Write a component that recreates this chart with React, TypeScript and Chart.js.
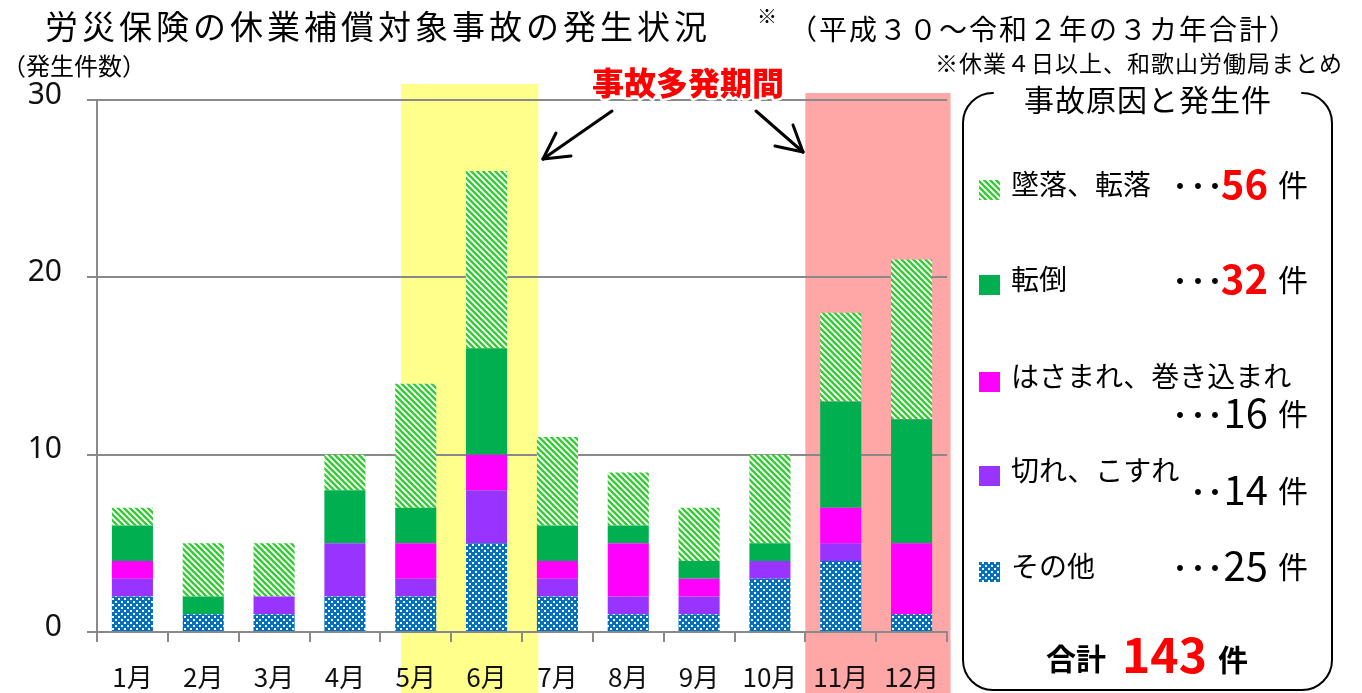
import React, { useEffect, useRef } from 'react';
import { Chart, registerables } from 'chart.js';

Chart.register(...registerables);

// ---- data ----
const months = ['1月', '2月', '3月', '4月', '5月', '6月', '7月', '8月', '9月', '10月', '11月', '12月'];
const sonota = [2, 1, 1, 2, 2, 5, 2, 1, 1, 3, 4, 1];       // その他
const kire = [1, 0, 1, 3, 1, 3, 1, 1, 1, 1, 1, 0];         // 切れ、こすれ
const hasamare = [1, 0, 0, 0, 2, 2, 1, 3, 1, 0, 2, 4];     // はさまれ、巻き込まれ
const tentou = [2, 1, 0, 3, 2, 6, 2, 1, 1, 1, 6, 7];       // 転倒
const tsuiraku = [1, 3, 3, 2, 7, 10, 5, 3, 3, 5, 5, 9];    // 墜落、転落
const yTicks = [0, 10, 20, 30];

const sum = (a: number[]) => a.reduce((s, v) => s + v, 0);

const JP = '"Noto Sans CJK JP", "Noto Sans", sans-serif';
const GRID = '#898989';

function makeStripe(): CanvasPattern {
  const c = document.createElement('canvas');
  c.width = 6; c.height = 6;
  const g = c.getContext('2d')!;
  g.fillStyle = '#ffffff';
  g.fillRect(0, 0, 6, 6);
  g.strokeStyle = '#33CC33';
  g.lineWidth = 2.4;
  for (const k of [-6, 0, 6]) {
    g.beginPath();
    g.moveTo(k - 1, -1);
    g.lineTo(k + 7, 7);
    g.stroke();
  }
  return g.createPattern(c, 'repeat')!;
}

function makeDots(): CanvasPattern {
  const c = document.createElement('canvas');
  c.width = 6; c.height = 6;
  const g = c.getContext('2d')!;
  g.fillStyle = '#0070C0';
  g.fillRect(0, 0, 6, 6);
  g.fillStyle = '#ffffff';
  g.fillRect(1, 1, 2, 2);
  g.fillRect(4, 4, 2, 2);
  return g.createPattern(c, 'repeat')!;
}

export default function App() {
  const ref = useRef<HTMLCanvasElement>(null);

  useEffect(() => {
    const canvas = ref.current!;
    const stripe = makeStripe();
    const dots = makeDots();

    const bandsPlugin = {
      id: 'bands',
      beforeDraw(chart: any) {
        const ctx = chart.ctx;
        const xs = chart.scales.x;
        const ca = chart.chartArea;
        const w = (xs.right - xs.left) / months.length;
        ctx.save();
        ctx.fillStyle = '#ffffff';
        ctx.fillRect(0, 0, chart.width, chart.height);
        // yellow band (5月-6月)
        const yl = xs.getPixelForValue(4) - 0.21 * w;
        const yr = xs.getPixelForValue(5) + 0.73 * w;
        ctx.fillStyle = '#FFFF8C';
        ctx.fillRect(yl, ca.top - 16, yr - yl, chart.height - (ca.top - 16));
        // pink band (11月-12月)
        const pl = xs.getPixelForValue(10) - 0.5 * w;
        const pr = xs.getPixelForValue(11) + 0.55 * w;
        ctx.fillStyle = '#FFA6A6';
        ctx.fillRect(pl, ca.top - 7, pr - pl, chart.height - (ca.top - 7));
        ctx.restore();
      },
    };

    const annoPlugin = {
      id: 'anno',
      afterDraw(chart: any) {
        const ctx: CanvasRenderingContext2D = chart.ctx;
        ctx.save();
        const setLS = (v: string) => { (ctx as any).letterSpacing = v; };
        ctx.textBaseline = 'middle';
        ctx.fillStyle = '#000';

        // titles
        setLS('4px');
        ctx.textAlign = 'left';
        ctx.font = `33px ${JP}`;
        ctx.fillText('労災保険の休業補償対象事故の発生状況', 45, 26);
        setLS('0px');
        ctx.font = `20px ${JP}`;
        ctx.fillText('※', 757, 16);
        setLS('2px');
        ctx.font = `28px ${JP}`;
        ctx.fillText('（平成３０～令和２年の３カ年合計）', 789, 29);
        setLS('0px');
        ctx.font = `24px ${JP}`;
        ctx.fillText('（発生件数）', 2, 66);
        setLS('1px');
        ctx.font = `23px ${JP}`;
        ctx.fillText('※休業４日以上、和歌山労働局まとめ', 935, 63);
        setLS('0px');

        // 事故多発期間
        ctx.font = `900 32px ${JP}`;
        ctx.textAlign = 'center';
        ctx.lineJoin = 'round';
        ctx.strokeStyle = '#fff';
        ctx.lineWidth = 5;
        ctx.strokeText('事故多発期間', 688, 83);
        ctx.fillStyle = '#FF0000';
        ctx.fillText('事故多発期間', 688, 83);

        // arrows
        ctx.strokeStyle = '#000';
        ctx.lineWidth = 3;
        ctx.lineCap = 'round';
        const seg = (a: number, b: number, c: number, d: number) => {
          ctx.beginPath(); ctx.moveTo(a, b); ctx.lineTo(c, d); ctx.stroke();
        };
        seg(612, 111, 543, 159); seg(543, 159, 556, 133); seg(543, 159, 571, 156);
        seg(756, 111, 803, 152); seg(803, 152, 793, 125); seg(803, 152, 775, 146);

        // legend box
        const bx = 963, by = 93, bw = 369, bh = 597, r = 30;
        ctx.lineWidth = 2;
        ctx.beginPath();
        ctx.moveTo(bx + r, by);
        ctx.arcTo(bx, by, bx, by + r, r);
        ctx.lineTo(bx, by + bh - r);
        ctx.arcTo(bx, by + bh, bx + r, by + bh, r);
        ctx.lineTo(bx + bw - r, by + bh);
        ctx.arcTo(bx + bw, by + bh, bx + bw, by + bh - r, r);
        ctx.lineTo(bx + bw, by + r);
        ctx.arcTo(bx + bw, by, bx + bw - r, by, r);
        ctx.stroke();

        ctx.fillStyle = '#000';
        ctx.textAlign = 'center';
        setLS('1px');
        ctx.font = `30px ${JP}`;
        ctx.fillText('事故原因と発生件', 1148, 100);
        setLS('0px');

        const items = [
          { label: '墜落、転落', fill: stripe, total: sum(tsuiraku), red: true, ly: 184, ny: 184, nd: 3 },
          { label: '転倒', fill: '#00B050', total: sum(tentou), red: true, ly: 279, ny: 279, nd: 3 },
          { label: 'はさまれ、巻き込まれ', fill: '#FF00FF', total: sum(hasamare), red: false, ly: 376, ny: 413, nd: 3 },
          { label: '切れ、こすれ', fill: '#9933FF', total: sum(kire), red: false, ly: 470, ny: 490, nd: 2 },
          { label: 'その他', fill: dots, total: sum(sonota), red: false, ly: 566, ny: 566, nd: 3 },
        ];
        const dotX = [1180, 1198, 1215];
        for (const it of items) {
          ctx.fillStyle = it.fill as any;
          ctx.fillRect(979, it.ly + 6 - 10, 21, 20);
          ctx.fillStyle = '#000';
          ctx.textAlign = 'left';
          ctx.font = `28px ${JP}`;
          ctx.fillText(it.label, 1011, it.ly);
          ctx.textAlign = 'center';
          const dx = dotX.slice(3 - it.nd);
          for (const x of dx) ctx.fillText('・', x, it.ny + 2);
          ctx.textAlign = 'right';
          ctx.font = `${it.red ? 'bold ' : ''}40px ${JP}`;
          ctx.fillStyle = it.red ? '#FF0000' : '#000';
          ctx.fillText(String(it.total), 1268, it.ny);
          ctx.fillStyle = '#000';
          ctx.textAlign = 'left';
          ctx.font = `30px ${JP}`;
          ctx.fillText('件', 1278, it.ny + 1);
        }
        const grand = sum(tsuiraku) + sum(tentou) + sum(hasamare) + sum(kire) + sum(sonota);
        ctx.textAlign = 'left';
        ctx.font = `bold 30px ${JP}`;
        ctx.fillText('合計', 1046, 659);
        ctx.font = `bold 48px ${JP}`;
        ctx.fillStyle = '#FF0000';
        ctx.fillText(String(grand), 1122, 655);
        ctx.fillStyle = '#000';
        ctx.font = `bold 30px ${JP}`;
        ctx.fillText('件', 1218, 660);
        ctx.restore();
      },
    };

    const chart = new Chart(canvas, {
      type: 'bar',
      data: {
        labels: months,
        datasets: [
          { label: 'その他', data: sonota, backgroundColor: dots },
          { label: '切れ、こすれ', data: kire, backgroundColor: '#9933FF' },
          { label: 'はさまれ、巻き込まれ', data: hasamare, backgroundColor: '#FF00FF' },
          { label: '転倒', data: tentou, backgroundColor: '#00B050' },
          { label: '墜落、転落', data: tsuiraku, backgroundColor: stripe },
        ] as any,
      },
      options: {
        responsive: false,
        animation: false,
        devicePixelRatio: 1,
        layout: { padding: { left: 0, top: 100, right: 415, bottom: 0 } },
        datasets: { bar: { barPercentage: 0.58, categoryPercentage: 1, borderWidth: 0 } },
        plugins: { legend: { display: false }, tooltip: { enabled: false }, title: { display: false } },
        scales: {
          x: {
            stacked: true,
            afterFit: (s: any) => { s.height = 61; },
            grid: { offset: true, drawOnChartArea: false, drawTicks: true, tickLength: 10, color: GRID, lineWidth: 2 },
            border: { display: true, color: GRID, width: 2 },
            ticks: { color: '#111', font: { family: JP, size: 26 }, padding: 20, maxRotation: 0, autoSkip: false },
          },
          y: {
            stacked: true,
            min: 0,
            max: 30,
            afterFit: (s: any) => { s.width = 97; },
            afterBuildTicks: (s: any) => { s.ticks = yTicks.map((v) => ({ value: v })); },
            grid: { color: GRID, lineWidth: 2, drawTicks: true, tickLength: 10 },
            border: { display: true, color: GRID, width: 2 },
            ticks: { color: '#111', font: { family: '"Noto Sans", sans-serif', size: 30 }, padding: 25, labelOffset: -5 },
          },
        },
      } as any,
      plugins: [bandsPlugin, annoPlugin],
    });
    return () => chart.destroy();
  }, []);

  return (
    <div style={{ position: 'fixed', left: 0, top: 0, width: 1362, height: 693, background: '#fff' }}>
      <canvas ref={ref} width={1362} height={693} style={{ display: 'block', width: 1362, height: 693 }} />
    </div>
  );
}
